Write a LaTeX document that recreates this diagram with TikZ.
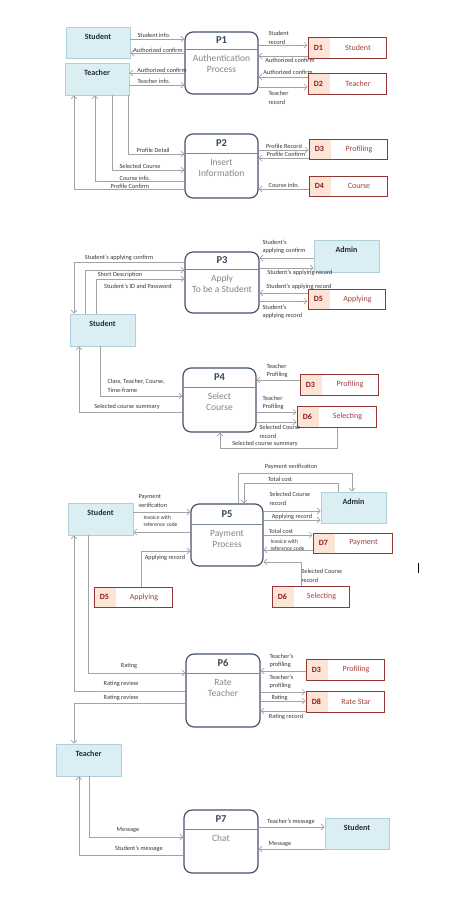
\documentclass[tikz,border=0pt]{standalone}
\usepackage{fontspec}
\setmainfont{Carlito}
\usetikzlibrary{fit,calc,arrows.meta}
\definecolor{entfill}{HTML}{DBEEF4}
\definecolor{entborder}{HTML}{AFCFDC}
\definecolor{enttext}{HTML}{1F2A36}
\definecolor{procborder}{HTML}{44546A}
\definecolor{procdiv}{HTML}{7A8898}
\definecolor{proctitle}{HTML}{34475C}
\definecolor{procbody}{HTML}{858585}
\definecolor{storeborder}{HTML}{943634}
\definecolor{storefill}{HTML}{FCE4D6}
\definecolor{storeid}{HTML}{8E1B1B}
\definecolor{storename}{HTML}{A5403E}
\definecolor{arrowgray}{HTML}{A3A3A3}
\definecolor{labgray}{HTML}{383838}
\tikzset{
  ent/.style={draw=entborder, fill=entfill, line width=0.8pt, inner sep=0pt},
  enttxt/.style={font=\bfseries\fontsize{8}{9}\selectfont, text=enttext, inner sep=0pt},
  proc/.style={draw=procborder, fill=white, line width=1.2pt, rounded corners=8pt, inner sep=0pt},
  procline/.style={draw=procdiv, line width=0.5pt},
  proctitlestyle/.style={font=\bfseries\fontsize{10.5}{12}\selectfont, text=proctitle, inner sep=0pt},
  procbodystyle/.style={font=\fontsize{9.5}{11}\selectfont, text=procbody, align=center, inner sep=0pt},
  store/.style={draw=storeborder, line width=1pt, inner sep=0pt},
  storeidstyle/.style={font=\bfseries\fontsize{8}{9}\selectfont, text=storeid, inner sep=0pt},
  storenamestyle/.style={font=\fontsize{8}{9}\selectfont, text=storename, inner sep=0pt},
  flow/.style={draw=arrowgray, line width=0.7pt, -{Straight Barb[length=3pt,width=6pt]}},
  lab/.style={font=\fontsize{6.3}{8.5}\selectfont, text=labgray, inner sep=0.3pt, align=left},
}
\newcommand{\entbox}[6]{%
  \node[ent, fit={(#2,#3) (#4,#5)}] (#1) {};
  \node[enttxt] (#1-t) at ($(#1.north)+(0,10)$) {#6};}
\newcommand{\procbox}[8]{%
  \node[proc, fit={(#2,#3) (#4,#5)}] (#1) {};
  \draw[procline] (#1.west |- 0,#6) -- (#1.east |- 0,#6);
  \node[proctitlestyle] (#1-t) at ($(#1.north)!0.5!(#1.north |- 0,#6)$) {#7};
  \node[procbodystyle, anchor=north] (#1-b) at ($(#1.north |- 0,#6)+(0,6)$) {#8};}
\newcommand{\storebox}[7]{%
  \fill[storefill] (#2,#3) rectangle (#2+22,#5);
  \node[store, fit={(#2,#3) (#4,#5)}] (#1) {};
  \node[storeidstyle] (#1-id) at ($(#1.west)+(11,0)$) {#6};
  \node[storenamestyle] (#1-n) at ($(#1.west)!0.5!(#1.east)+(11,0)$) {#7};}
\begin{document}
\begin{tikzpicture}[x=1pt,y=-1pt]
\fill[white] (0,0) rectangle (474,903);
\useasboundingbox (0,0) rectangle (474,903);

% ---------------- Section 1 ----------------
\entbox{stu1}{66}{27}{130}{58}{Student}
\entbox{tea1}{65}{63}{129}{95}{Teacher}
\procbox{p1}{185}{32}{258}{94}{49}{P1}{Authentication\\Process}
\storebox{d1}{308}{37}{386}{58}{D1}{Student}
\storebox{d2}{308}{73}{386}{94}{D2}{Teacher}

\draw[flow] (stu1.east |- 0,39) -- (p1.west |- 0,39);
\draw[flow] (p1.west |- 0,53) -- (stu1.east |- 0,53);
\draw[flow] (p1.west |- 0,73) -- (tea1.east |- 0,73);
\draw[flow] (tea1.east |- 0,85) -- (p1.west |- 0,85);
\draw[flow] (p1.east |- 0,45) -- (d1.west |- 0,45);
\draw[flow] (d1.west |- 0,56) -- (p1.east |- 0,56);
\draw[flow] (d2.west |- 0,77) -- (p1.east |- 0,77);
\draw[flow] (p1.east |- 0,87) -- (d2.west |- 0,87);

\node[lab] (l1) at (154,35) {Student info.};
\node[lab] (l2) at (158,50) {Authorized confirm};
\node[lab] (l3) at (162,70) {Authorized confirm};
\node[lab] (l4) at (154,81) {Teacher info.};
\node[lab, anchor=west] (l5) at (268,38) {Student\\record};
\node[lab] (l6) at (290,60) {Authorized confirm};
\node[lab] (l7) at (288,72) {Authorized confirm};
\node[lab, anchor=west] (l8) at (268,98) {Teacher\\record};

\procbox{p2}{185}{134}{258}{198}{153}{P2}{Insert\\Information}
\storebox{d3}{309}{139}{387}{159}{D3}{Profiling}
\storebox{d4}{309}{176}{387}{196}{D4}{Course}

\draw[flow] (tea1.south -| 128,0) |- (p2.west |- 0,154);
\draw[flow] (tea1.south -| 112,0) |- (p2.west |- 0,170);
\draw[flow] (p2.west |- 0,181) -| (tea1.south -| 95,0);
\draw[flow] (p2.west |- 0,189) -| (tea1.south -| 74,0);
\draw[flow] (p2.east |- 0,150) -- (d3.west |- 0,150);
\draw[flow] (d3.west |- 0,158) -- (p2.east |- 0,158);
\draw[flow] (d4.west |- 0,189) -- (p2.east |- 0,189);

\node[lab] (l9) at (153,150) {Profile Detail};
\node[lab] (l10) at (140,166) {Selected Course};
\node[lab] (l11) at (135,178) {Course info.};
\node[lab] (l12) at (130,186) {Profile Confirm};
\node[lab] (l13) at (284,146) {Profile Record};
\node[lab] (l14) at (286,154) {Profile Confirm};
\node[lab] (l15) at (284,185) {Course info.};

% ---------------- Section 2 ----------------
\entbox{stu2}{70}{314}{135}{346}{Student}
\entbox{adm1}{314}{240}{379}{272}{Admin}
\procbox{p3}{185}{252}{259}{313}{269}{P3}{Apply\\To be a Student}
\storebox{d5a}{308}{289}{385}{309}{D5}{Applying}

\draw[flow] (p3.west |- 0,262) -| (stu2.north -| 74,0);
\draw[flow] (stu2.north -| 85,0) |- (p3.west |- 0,270);
\draw[flow] (stu2.north -| 96,0) |- (p3.west |- 0,279);
\draw[flow] (adm1.west |- 0,258) -- (p3.east |- 0,258);
\draw[flow] (p3.east |- 0,268) -- (adm1.west |- 0,268);
\draw[flow] (d5a.west |- 0,293) -- (p3.east |- 0,293);
\draw[flow] (p3.east |- 0,301) -- (d5a.west |- 0,301);

\node[lab] (l16) at (119,258) {Student's applying confirm};
\node[lab] (l17) at (120,274.5) {Short Description};
\node[lab] (l18) at (138,286) {Student's ID and Password};
\node[lab, anchor=west] (l19) at (262,247) {Student's\\applying confirm};
\node[lab] (l20) at (300,273) {Student's applying record};
\node[lab] (l21) at (299,287) {Student's applying record};
\node[lab, anchor=west] (l22) at (262,312) {Student's\\applying record};

\procbox{p4}{183}{368}{256}{432}{387}{P4}{Select\\Course}
\storebox{d3b}{300}{374}{378}{395}{D3}{Profiling}
\storebox{d6a}{297}{406}{376}{427}{D6}{Selecting}

\draw[flow] (stu2.south -| 100,0) |- (p4.west |- 0,396);
\draw[flow] (p4.west |- 0,412) -| (stu2.south -| 79,0);
\draw[flow] (d3b.west |- 0,380) -- (p4.east |- 0,380);
\draw[flow] (p4.east |- 0,412) -- (d6a.west |- 0,412);
\draw[flow] (p4.east |- 0,422) -- (d6a.west |- 0,422);
\draw[flow] (d6a.south -| 337,0) -- (337,448) -| (p4.south -| 220,0);

\node[lab, anchor=west] (l23) at (107,386) {Class, Teacher, Course,\\Time-frame};
\node[lab] (l24) at (127,407) {Selected course summary};
\node[lab, anchor=west] (l25) at (266,371) {Teacher\\Profiling};
\node[lab, anchor=west] (l26) at (262,403) {Teacher\\Profiling};
\node[lab, anchor=west] (l27) at (259,432) {Selected Course\\record};
\node[lab] (l28) at (265,444) {Selected course summary};

% ---------------- Section 3 ----------------
\entbox{stu3}{68}{503}{133}{535}{Student}
\entbox{adm2}{321}{492}{386}{523}{Admin}
\procbox{p5}{191}{504}{263}{566}{524}{P5}{Payment\\Process}
\storebox{d7}{313}{533}{392}{553}{D7}{Payment}
\storebox{d5b}{94}{587}{172}{607}{D5}{Applying}
\storebox{d6b}{272}{586}{349}{607}{D6}{Selecting}

\draw[flow] (stu3.east |- 0,512) -- (p5.west |- 0,512);
\draw[flow] (p5.west |- 0,532) -- (stu3.east |- 0,532);
\draw[flow] (d5b.north -| 141,0) |- (p5.west |- 0,551);
\draw[flow] (p5.north -| 238,0) -- (238,473) -| (adm2.north -| 352,0);
\draw[flow] (adm2.north -| 338,0) -- (338,483) -| (p5.north -| 244,0);
\draw[flow] (p5.east |- 0,511) -- (adm2.west |- 0,511);
\draw[flow] (p5.east |- 0,520) -- (adm2.west |- 0,520);
\draw[flow] (p5.east |- 0,535) -- (d7.west |- 0,535);
\draw[flow] (d7.west |- 0,550) -- (p5.east |- 0,550);
\draw[flow] (d6b.north -| 301,0) |- (p5.east |- 0,562);

\node[lab, anchor=west] (l29) at (138,501) {Payment\\verification};
\node[lab, anchor=west, font=\fontsize{5.6}{7.5}\selectfont] (l30) at (143,521) {Invoice with\\reference code};
\node[lab] (l31) at (165,558) {Applying record};
\node[lab] (l32) at (291,467) {Payment verification};
\node[lab] (l33) at (280,479) {Total cost};
\node[lab, anchor=west] (l34) at (269,499) {Selected Course\\record};
\node[lab] (l35) at (292,516.5) {Applying record};
\node[lab] (l36) at (281,531) {Total cost};
\node[lab, anchor=west, font=\fontsize{5.6}{7.5}\selectfont] (l37) at (270,545) {Invoice with\\reference code};
\node[lab, anchor=west] (l38) at (301,576) {Selected Course\\record};

\draw[black, line width=0.7pt] (418,563) -- (418,573);

% ---------------- Section 4 ----------------
\procbox{p6}{186}{654}{260}{727}{673}{P6}{Rate\\Teacher}
\storebox{d3c}{306}{659}{384}{680}{D3}{Profiling}
\storebox{d8}{306}{691}{384}{712}{D8}{Rate Star}
\entbox{tea2}{56}{744}{121}{776}{Teacher}

\draw[flow] (stu3.south -| 88,0) |- (p6.west |- 0,673);
\draw[flow] (p6.west |- 0,691) -| (stu3.south -| 74,0);
\draw[flow] (p6.west |- 0,703) -| (tea2.north -| 74,0);
\draw[flow] (d3c.west |- 0,671) -- (p6.east |- 0,671);
\draw[flow] (p6.east |- 0,692) -- (d8.west |- 0,692);
\draw[flow] (p6.east |- 0,701) -- (d8.west |- 0,701);
\draw[flow] (d8.west |- 0,711) -- (p6.east |- 0,711);

\node[lab] (l39) at (129,666) {Rating};
\node[lab] (l40) at (121,684) {Rating review};
\node[lab] (l41) at (121,698) {Rating review};
\node[lab, anchor=west] (l42) at (269,661) {Teacher's\\profiling};
\node[lab, anchor=west] (l43) at (269,682) {Teacher's\\profiling};
\node[lab, anchor=west] (l44) at (271,697.5) {Rating};
\node[lab] (l45) at (286,717) {Rating record};

% ---------------- Section 5 ----------------
\procbox{p7}{184}{810}{258}{873}{829}{P7}{Chat}
\entbox{stu4}{325}{818}{389}{849}{Student}

\draw[flow] (tea2.south -| 89,0) |- (p7.west |- 0,837);
\draw[flow] (p7.west |- 0,855) -| (tea2.south -| 79,0);
\draw[flow] (p7.east |- 0,827) -- (stu4.west |- 0,827);
\draw[flow] (stu4.west |- 0,849) -- (p7.east |- 0,849);

\node[lab] (l46) at (128,830) {Message};
\node[lab] (l47) at (139,849) {Student's message};
\node[lab] (l48) at (291,822) {Teacher's message};
\node[lab] (l49) at (280,844) {Message};
\end{tikzpicture}
\end{document}
